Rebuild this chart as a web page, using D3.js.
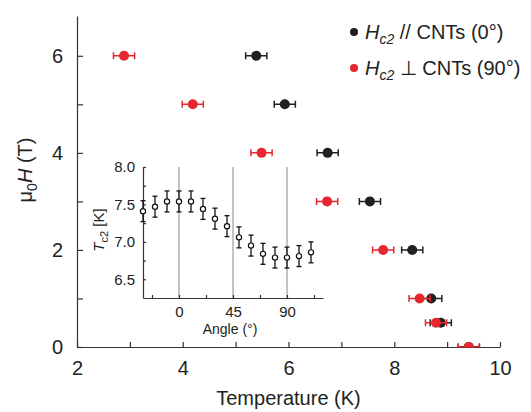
<!DOCTYPE html>
<html>
<head>
<meta charset="utf-8">
<script src="https://cdn.jsdelivr.net/npm/d3@7"></script>
<style>
  body { margin: 0; background: #fff; }
  svg { display: block; font-family: "Liberation Sans", Arial, sans-serif; }
  .axis path, .axis line { stroke: #333; stroke-width: 1.2; }
  .axis text { fill: #222; }
</style>
</head>
<body>
<svg id="chart" width="531" height="412"></svg>
<script>
// main panel: critical field vs temperature
const fields = [6, 5, 4, 3, 2, 1, 0.5, 0];
const tParallel = [5.39, 5.93, 6.74, 7.54, 8.34, 8.70, 8.88, 9.41];
const tPerp = [2.89, 4.19, 5.49, 6.73, 7.79, 8.48, 8.79, 9.41];
const tErr = 0.2;

// inset: Tc2 vs angle
const angles = [-30, -20, -10, 0, 10, 20, 30, 40, 50, 60, 70, 80, 90, 100, 110];
const tc2 = [7.41, 7.47, 7.54, 7.54, 7.54, 7.44, 7.31, 7.21, 7.06, 6.95, 6.84, 6.79, 6.79, 6.81, 6.86];
const tc2Err = 0.14;

const xTicks = [2, 4, 6, 8, 10];
const yTicks = [0, 2, 4, 6];
const insetYTicks = [6.5, 7.0, 7.5, 8.0];
const insetXTicks = [0, 45, 90];

const black = "#231f20", red = "#e8262d";
const svg = d3.select("#chart");

const x = d3.scaleLinear().domain([2, 10]).range([77, 500]);
const y = d3.scaleLinear().domain([0, 6.82]).range([347, 16]);

// axes
const xAxis = svg.append("g").attr("class", "axis").attr("transform", `translate(0,${y(0)})`);
xAxis.call(d3.axisBottom(x).tickValues(xTicks).tickFormat(d3.format("d"))
  .tickSizeInner(-5).tickSizeOuter(0).tickPadding(14));
xAxis.append("g").call(d3.axisBottom(x).tickValues([3, 5, 7, 9]).tickFormat("")
  .tickSizeInner(-5).tickSizeOuter(0)).select(".domain").remove();
xAxis.selectAll("text").attr("font-size", 20);

const yAxis = svg.append("g").attr("class", "axis").attr("transform", `translate(${x(2)},0)`);
yAxis.call(d3.axisLeft(y).tickValues(yTicks).tickFormat(d3.format("d"))
  .tickSizeInner(-6).tickSizeOuter(0).tickPadding(14));
yAxis.append("g").call(d3.axisLeft(y).tickValues([1, 3, 5]).tickFormat("")
  .tickSizeInner(-6).tickSizeOuter(0)).select(".domain").remove();
yAxis.selectAll("text").attr("font-size", 20);

svg.append("text").attr("x", x(6)).attr("y", 405).attr("text-anchor", "middle")
  .attr("font-size", 20).attr("fill", "#222").text("Temperature (K)");

const yl = svg.append("text").attr("transform", "translate(32,170) rotate(-90)")
  .attr("text-anchor", "middle").attr("font-size", 20).attr("fill", "#222");
yl.append("tspan").text("μ");
yl.append("tspan").attr("font-size", 14).attr("dy", 5).text("0");
yl.append("tspan").attr("dy", -5).attr("font-style", "italic").text("H");
yl.append("tspan").text(" (T)");

// data (clipped at the axes)
svg.append("clipPath").attr("id", "plotClip").append("rect")
  .attr("x", x(2)).attr("y", y(6.82)).attr("width", x(10) - x(2) + 12).attr("height", y(0) - y(6.82) + 0.5);

const plot = svg.append("g").attr("clip-path", "url(#plotClip)");

function drawSeries(temps, color) {
  const g = plot.append("g");
  const pts = fields.map((f, i) => ({ f, t: temps[i] }));
  g.selectAll("line.bar").data(pts).join("line")
    .attr("x1", d => x(d.t - tErr)).attr("x2", d => x(d.t + tErr))
    .attr("y1", d => y(d.f)).attr("y2", d => y(d.f))
    .attr("stroke", color).attr("stroke-width", 1.5);
  g.selectAll("line.capl").data(pts).join("line")
    .attr("x1", d => x(d.t - tErr)).attr("x2", d => x(d.t - tErr))
    .attr("y1", d => y(d.f) - 3.5).attr("y2", d => y(d.f) + 3.5)
    .attr("stroke", color).attr("stroke-width", 1.5);
  g.selectAll("line.capr").data(pts).join("line")
    .attr("x1", d => x(d.t + tErr)).attr("x2", d => x(d.t + tErr))
    .attr("y1", d => y(d.f) - 3.5).attr("y2", d => y(d.f) + 3.5)
    .attr("stroke", color).attr("stroke-width", 1.5);
  g.selectAll("circle").data(pts).join("circle")
    .attr("cx", d => x(d.t)).attr("cy", d => y(d.f)).attr("r", 5)
    .attr("fill", color);
}
drawSeries(tParallel, black);
drawSeries(tPerp, red);

// legend
const legend = [
  { color: black, sym: " // CNTs (0°)" },
  { color: red, sym: " ⊥ CNTs (90°)" }
];
legend.forEach((l, i) => {
  const ly = 32 + i * 36;
  svg.append("circle").attr("cx", 354).attr("cy", ly).attr("r", 4).attr("fill", l.color);
  const t = svg.append("text").attr("x", 365).attr("y", ly + 7).attr("font-size", 20).attr("fill", "#222");
  t.append("tspan").attr("font-style", "italic").text("H");
  t.append("tspan").attr("font-size", 14).attr("font-style", "italic").attr("dy", 5).text("c2");
  t.append("tspan").attr("dy", -5).text(l.sym);
});

// inset
const ix = d3.scaleLinear().domain([-30, 120]).range([143, 323]);
const iy = d3.scaleLinear().domain([6.25, 8.0]).range([298, 167]);
const inset = svg.append("g");

inset.selectAll("line.guide").data(insetXTicks).join("line")
  .attr("x1", d => ix(d)).attr("x2", d => ix(d))
  .attr("y1", iy(8.0)).attr("y2", iy(6.25))
  .attr("stroke", "#888").attr("stroke-width", 1);

const ixAxis = inset.append("g").attr("class", "axis").attr("transform", `translate(0,${iy(6.25)})`);
ixAxis.call(d3.axisBottom(ix).tickValues(insetXTicks).tickSizeInner(-3).tickSizeOuter(0).tickPadding(8));
ixAxis.append("g").call(d3.axisBottom(ix).tickValues([-22.5, 22.5, 67.5, 112.5]).tickFormat("")
  .tickSizeInner(-3).tickSizeOuter(0)).select(".domain").remove();
ixAxis.selectAll("text").attr("font-size", 15);

const iyAxis = inset.append("g").attr("class", "axis").attr("transform", `translate(${ix(-30)},0)`);
iyAxis.call(d3.axisLeft(iy).tickValues(insetYTicks).tickFormat(d3.format(".1f"))
  .tickSizeInner(-3).tickSizeOuter(0).tickPadding(8));
iyAxis.append("g").call(d3.axisLeft(iy).tickValues([6.75, 7.25, 7.75]).tickFormat("")
  .tickSizeInner(-3).tickSizeOuter(0)).select(".domain").remove();
iyAxis.selectAll("text").attr("font-size", 15);

inset.append("text").attr("x", 230).attr("y", 334).attr("text-anchor", "middle")
  .attr("font-size", 14).attr("fill", "#222").text("Angle (°)");

const il = inset.append("text").attr("transform", "translate(104,230) rotate(-90)")
  .attr("text-anchor", "middle").attr("font-size", 15).attr("fill", "#222");
il.append("tspan").attr("font-style", "italic").text("T");
il.append("tspan").attr("font-size", 11).attr("dy", 4).text("c2");
il.append("tspan").attr("dy", -4).text(" [K]");

const ipts = angles.map((a, i) => ({ a, v: tc2[i] }));
inset.selectAll("line.ebar").data(ipts).join("line")
  .attr("x1", d => ix(d.a)).attr("x2", d => ix(d.a))
  .attr("y1", d => iy(d.v - tc2Err)).attr("y2", d => iy(d.v + tc2Err))
  .attr("stroke", "#111").attr("stroke-width", 1.3);
[-1, 1].forEach(s => {
  inset.selectAll(null).data(ipts).join("line")
    .attr("x1", d => ix(d.a) - 2.5).attr("x2", d => ix(d.a) + 2.5)
    .attr("y1", d => iy(d.v + s * tc2Err)).attr("y2", d => iy(d.v + s * tc2Err))
    .attr("stroke", "#111").attr("stroke-width", 1.3);
});
inset.selectAll("circle").data(ipts).join("circle")
  .attr("cx", d => ix(d.a)).attr("cy", d => iy(d.v)).attr("r", 2.6)
  .attr("fill", "#fff").attr("stroke", "#111").attr("stroke-width", 1.2);
</script>
</body>
</html>
